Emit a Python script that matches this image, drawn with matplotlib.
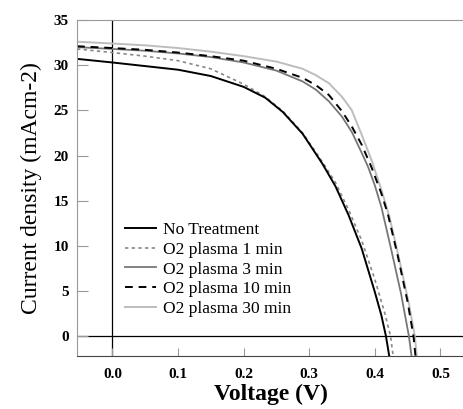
import matplotlib
matplotlib.use("Agg")
from matplotlib import pyplot as plt

# J-V curves
v_none = [-0.054, 0.0, 0.05, 0.10, 0.15, 0.20, 0.233, 0.26, 0.29, 0.32, 0.34, 0.36, 0.38, 0.40, 0.41, 0.417, 0.422]
j_none = [30.7, 30.3, 29.9, 29.5, 28.8, 27.6, 26.4, 24.8, 22.4, 19.1, 16.6, 13.4, 9.7, 4.9, 2.3, 0.0, -2.2]

v_1min = [-0.054, 0.0, 0.05, 0.10, 0.15, 0.20, 0.233, 0.26, 0.29, 0.32, 0.34, 0.36, 0.38, 0.40, 0.415, 0.424, 0.428]
j_1min = [31.8, 31.4, 31.0, 30.5, 29.6, 27.9, 26.5, 24.9, 22.5, 19.3, 17.0, 14.0, 10.6, 6.3, 2.6, 0.0, -2.2]

v_3min = [-0.054, 0.0, 0.05, 0.10, 0.15, 0.20, 0.25, 0.29, 0.31, 0.33, 0.35, 0.365, 0.38, 0.39, 0.40, 0.41, 0.425, 0.44, 0.452, 0.456]
j_3min = [32.0, 31.8, 31.6, 31.3, 30.9, 30.3, 29.4, 28.2, 27.3, 26.0, 24.3, 22.6, 20.3, 18.7, 16.7, 14.3, 9.6, 4.7, 0.0, -2.2]

v_10min = [-0.054, 0.0, 0.05, 0.10, 0.15, 0.20, 0.25, 0.29, 0.31, 0.33, 0.35, 0.365, 0.38, 0.395, 0.41, 0.42, 0.435, 0.45, 0.459, 0.462]
j_10min = [32.1, 31.9, 31.7, 31.4, 31.0, 30.5, 29.6, 28.6, 27.8, 26.7, 24.9, 23.2, 21.2, 18.7, 15.8, 13.5, 8.9, 3.8, 0.0, -2.2]

v_30min = [-0.054, 0.0, 0.05, 0.10, 0.15, 0.20, 0.25, 0.29, 0.31, 0.33, 0.35, 0.365, 0.38, 0.395, 0.41, 0.422, 0.437, 0.452, 0.461, 0.464]
j_30min = [32.6, 32.4, 32.2, 31.9, 31.5, 31.0, 30.4, 29.6, 28.9, 28.0, 26.5, 25.0, 22.3, 19.5, 16.2, 13.3, 8.6, 3.6, 0.0, -2.2]

labels = ["No Treatment", "O2 plasma 1 min", "O2 plasma 3 min", "O2 plasma 10 min", "O2 plasma 30 min"]
x_ticks = [0.0, 0.1, 0.2, 0.3, 0.4, 0.5]
y_ticks = [0, 5, 10, 15, 20, 25, 30, 35]


def main():
    plt.rcParams['font.family'] = ['Liberation Serif', 'DejaVu Serif']
    fig = plt.figure(figsize=(4.64, 4.09), dpi=100)
    ax = fig.add_axes([0.166, 0.1296, 0.834, 0.8214])

    ax.axhline(0, color='black', lw=0.9, zorder=1)
    ax.axvline(0, color='black', lw=0.9, zorder=1)

    ax.plot(v_30min, j_30min, color='#bdbdbd', lw=1.4, label=labels[4])
    ax.plot(v_3min, j_3min, color='#777777', lw=1.3, label=labels[2])
    ax.plot(v_10min, j_10min, color='black', lw=1.4, dashes=(4, 3), label=labels[3])
    ax.plot(v_1min, j_1min, color='#888888', lw=1.2, dashes=(2, 2), label=labels[1])
    ax.plot(v_none, j_none, color='black', lw=1.4, label=labels[0])

    ax.set_xlim(-0.054, 0.536)
    ax.set_ylim(-2.2, 35)
    ax.set_xticks(x_ticks)
    ax.set_xticklabels(["%.1f" % t for t in x_ticks])
    ax.set_yticks(y_ticks)
    ax.tick_params(axis='x', direction='in', length=6, color='#999999', pad=9, labelsize=11)
    ax.tick_params(axis='y', direction='in', length=8, color='#999999', pad=6, labelsize=11)
    for lab in ax.get_xticklabels() + ax.get_yticklabels():
        lab.set_fontweight('bold')

    ax.spines['right'].set_visible(False)
    ax.spines['left'].set_color('#999999')
    ax.spines['top'].set_color('#999999')
    ax.spines['bottom'].set_color('#444444')

    ax.set_xlabel("Voltage (V)", fontsize=17, fontweight='bold', labelpad=2)
    ax.set_ylabel("Current density (mAcm-2)", fontsize=17, labelpad=8)

    h, l = ax.get_legend_handles_labels()
    order = [4, 3, 1, 2, 0]
    ax.legend([h[i] for i in order], [l[i] for i in order], loc='upper left',
              bbox_to_anchor=(0.084, 0.445), frameon=False, fontsize=12.5,
              handlelength=1.8, handletextpad=0.4, labelspacing=0.2)

    fig.savefig('out.png', dpi=100)


if __name__ == '__main__':
    main()
